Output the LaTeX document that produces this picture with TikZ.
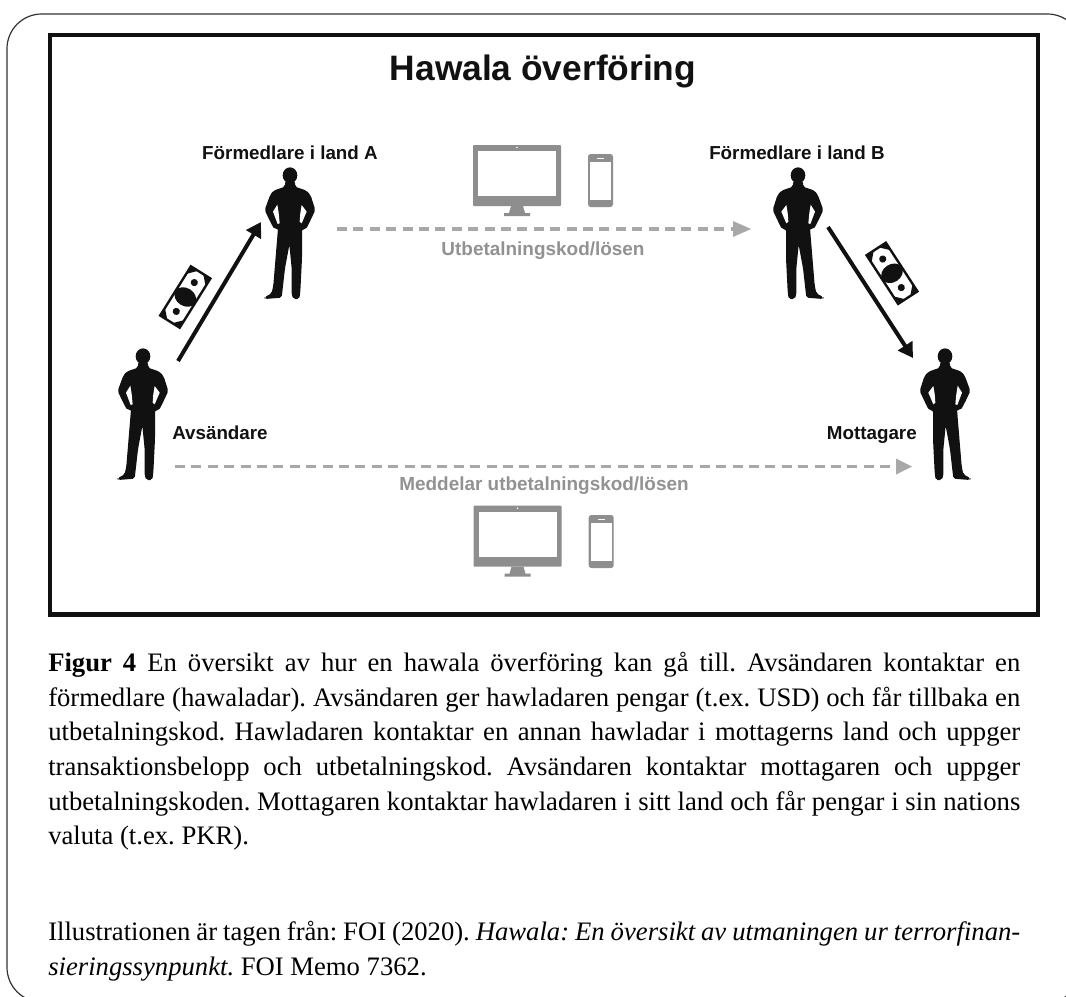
\documentclass[tikz,border=0pt]{standalone}
\usepackage{fontspec}
\setmainfont{Liberation Serif}
\newfontfamily\hel{Liberation Sans}
\usetikzlibrary{arrows.meta}
\definecolor{dashgrey}{HTML}{A8A8A8}
\definecolor{devgrey}{HTML}{8E8E8E}
\definecolor{labelgrey}{HTML}{929292}
\definecolor{ink}{HTML}{111111}
\tikzset{
 x=0.75pt,y=-0.75pt,
 blackarrow/.style={draw=ink,line width=3pt,-{Triangle[length=11pt,width=12.5pt]}},
 greyline/.style={draw=dashgrey,line width=2.8pt,dash pattern=on 7.5pt off 4.8pt},
 greyhead/.style={fill=dashgrey},
 devicegrey/.style={fill=devgrey},
 lab/.style={font=\hel\bfseries\fontsize{14.1pt}{16pt}\selectfont,text=ink},
 greylab/.style={font=\hel\bfseries\fontsize{14.2pt}{16pt}\selectfont,text=labelgrey},
 bodytext/.style={anchor=north west,inner sep=0pt,text width=729pt,align=justify,font=\fontsize{20pt}{26pt}\selectfont\frenchspacing},
 person/.pic={
  \fill[ink,scale=1/3] (0,22) ellipse (22 and 24);
  \fill[ink,rounded corners=1.5pt,scale=1/3]
   (-15,40) -- (15,40) -- (15,56) -- (50,68) -- (62,82) -- (76,126) -- (60,160) -- (48,184) -- (36,184)
   -- (36,271) -- (31,371) -- (28,393) -- (10,393) -- (5,381) -- (5,301) -- (-2,231) -- (-15,301) -- (-25,389) -- (-75,393) -- (-77,388) -- (-55,376) -- (-50,351) -- (-36,181) -- (-47,184)
   -- (-60,160) -- (-76,126) -- (-60,82) -- (-50,68) -- (-15,56) -- cycle;
  \fill[white,scale=1/3] (-38,110) -- (-51,131) -- (-37,168) -- (-31,166) -- (-34,135) -- cycle;
  \fill[white,scale=1/3] (35,111) -- (50,131) -- (35,166) -- (29,161) -- (31,135) -- cycle;
 },
 banknote/.pic={
  \draw[ink,line width=1.8pt,fill=white] (-29,-11.5) rectangle (29,11.5);
  \fill[ink] (0,0) ellipse (9 and 11.5);
  \fill[ink] (-17,0) circle (3.6);
  \fill[ink] (17,0) circle (3.6);
  \fill[ink] (-29,-11.5) -- (-20,-11.5) -- (-29,-3) -- cycle;
  \fill[ink] (-29,11.5) -- (-20,11.5) -- (-29,3) -- cycle;
  \fill[ink] (29,-11.5) -- (20,-11.5) -- (29,-3) -- cycle;
  \fill[ink] (29,11.5) -- (20,11.5) -- (29,3) -- cycle;
 },
 monitor/.pic={
  \fill[devicegrey,rounded corners=0.7pt] (0,0) rectangle (88,61);
  \fill[white] (5,6) rectangle (83,51);
  \fill[white] (44,2.5) circle (0.8);
  \fill[devicegrey] (38,61) -- (50,61) -- (52,68) -- (57,68) -- (57,71) -- (31,71) -- (31,68) -- (36,68) -- cycle;
 },
 phone/.pic={
  \fill[devicegrey,rounded corners=2pt] (0,0) rectangle (25,53);
  \fill[white] (2,8) rectangle (23,45.5);
  \fill[white] (9,3.5) rectangle (16,5);
 },
}
\begin{document}
\begin{tikzpicture}
\useasboundingbox (0,0) rectangle (1066,996);
\clip (0,0) rectangle (1066,996);
\fill[white] (0,0) rectangle (1066,996);
\draw[black!80,line width=0.9pt,rounded corners=26pt] (7,14) rectangle (1082,1002);
\draw[ink,line width=3.3pt] (50.2,35.2) rectangle (1038,614.5);
\node[font=\hel\bfseries\fontsize{26.5pt}{30pt}\selectfont,text=ink] (title) at (543,71) {Hawala överföring};
\node[lab] (la) at (290,153) {Förmedlare i land A};
\node[lab] (lb) at (797,153) {Förmedlare i land B};
\node[lab,anchor=base west,inner sep=0pt] (ls) at (172,439) {Avsändare};
\node[lab,anchor=base east,inner sep=0pt] (lm) at (917,439) {Mottagare};
\node[greylab] (lu) at (543,251) {Utbetalningskod/lösen};
\node[greylab] (lc) at (544,486) {Meddelar utbetalningskod/lösen};

\pic at (290,168) {person};
\pic at (143,349) {person};
\pic[xscale=-1] at (798,168) {person};
\pic[xscale=-1] at (945,349) {person};

\coordinate (a1) at (178,361);
\coordinate (a2) at (261,222);
\coordinate (b1) at (828,227);
\coordinate (b2) at (913,358);
\draw[blackarrow] (a1) -- (a2);
\draw[blackarrow] (b1) -- (b2);
\pic[rotate=58] at (185.3,297) {banknote};
\pic[rotate=-57] at (892,273.3) {banknote};

\coordinate (c1) at (337,229);
\coordinate (c2) at (733,229);
\coordinate (c3) at (751,229);
\coordinate (d1) at (175,466.5);
\coordinate (d2) at (896,466.5);
\coordinate (d3) at (912,466.5);
\draw[greyline] (c1) -- (c2);
\fill[greyhead] (c3) -- (733,221) -- (733,237) -- cycle;
\draw[greyline] (d1) -- (d2);
\fill[greyhead] (d3) -- (896,458.5) -- (896,474.5) -- cycle;

\pic at (473,145) {monitor};
\pic at (588,154) {phone};
\pic at (473.5,505.7) {monitor};
\pic at (588.7,515) {phone};

\node[bodytext] (cap) at (48,652) {\textbf{Figur 4} En översikt av hur en hawala överföring kan gå till. Avsändaren kontaktar en\linebreak förmedlare (hawaladar). Avsändaren ger hawladaren pengar (t.ex. USD) och får tillbaka en\linebreak utbetalningskod. Hawladaren kontaktar en annan hawladar i mottagerns land och uppger\linebreak transaktionsbelopp och utbetalningskod. Avsändaren kontaktar mottagaren och uppger\linebreak utbetalningskoden. Mottagaren kontaktar hawladaren i sitt land och får pengar i sin nations\linebreak valuta (t.ex. PKR).};
\node[bodytext] (src) at (48,921) {Illustrationen är tagen från: FOI (2020). \textit{Hawala: En översikt av utmaningen ur terrorfinan-}\linebreak \textit{sieringssynpunkt.} FOI Memo 7362.};
\end{tikzpicture}
\end{document}
